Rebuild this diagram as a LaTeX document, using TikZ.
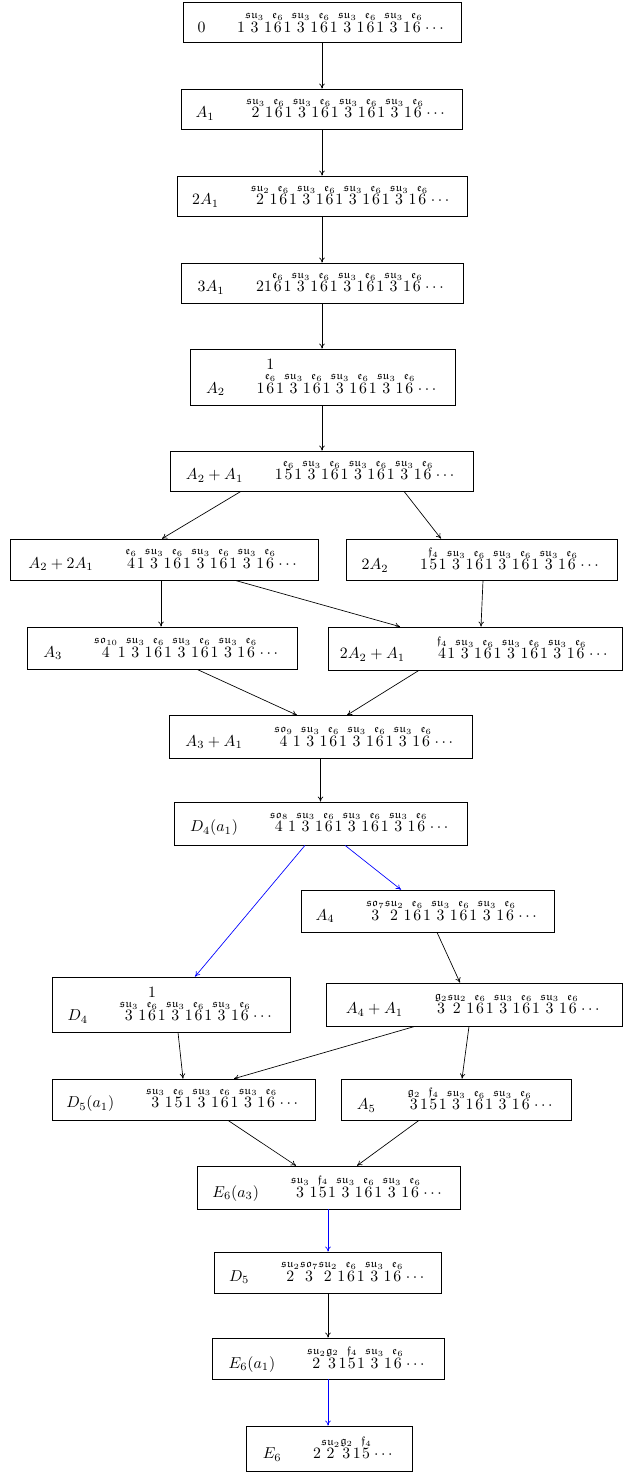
\documentclass[tikz,border=0pt]{standalone}
\usepackage{amsmath,amssymb}
\usetikzlibrary{calc,arrows.meta}
\newcommand{\xsu}[2]{\overset{\mathfrak{su}_{#1}}{#2}}
\newcommand{\xso}[2]{\overset{\mathfrak{so}_{#1}}{#2}}
\newcommand{\xe}[1]{\overset{\mathfrak{e}_6}{#1}}
\newcommand{\xf}[1]{\overset{\mathfrak{f}_4}{#1}}
\newcommand{\xg}[1]{\overset{\mathfrak{g}_2}{#1}}
\newcommand{\xtop}[1]{\overset{\textstyle 1}{#1}}
\newcommand{\tx}[1]{\scalebox{0.935}{$#1$}}
\tikzset{
  box/.style 2 args={draw, inner xsep=1pt, inner ysep=1pt,
    minimum width=#1*0.5917pt, minimum height=#2*0.5917pt},
  ar/.style={-{To[length=3pt,width=3.2pt]}},
  bl/.style={ar, blue}}
\begin{document}
\begin{tikzpicture}[x=0.5917pt,y=-0.5917pt]
\useasboundingbox (0,0) rectangle (624,1479);

\node[box={278}{40}] (n0) at (322,22)
 {\tx{0\qquad 1\xsu{3}{3}1\xe{6}1\xsu{3}{3}1\xe{6}1\xsu{3}{3}1\xe{6}1\xsu{3}{3}1\xe{6}\cdots}};
\node[box={281}{40}] (nA1) at (321.5,109)
 {\tx{A_1\qquad \xsu{3}{2}1\xe{6}1\xsu{3}{3}1\xe{6}1\xsu{3}{3}1\xe{6}1\xsu{3}{3}1\xe{6}\cdots}};
\node[box={290}{40}] (n2A1) at (322,196)
 {\tx{2A_1\qquad \xsu{2}{2}1\xe{6}1\xsu{3}{3}1\xe{6}1\xsu{3}{3}1\xe{6}1\xsu{3}{3}1\xe{6}\cdots}};
\node[box={282}{40}] (n3A1) at (322,283)
 {\tx{3A_1\qquad 21\xe{6}1\xsu{3}{3}1\xe{6}1\xsu{3}{3}1\xe{6}1\xsu{3}{3}1\xe{6}\cdots}};
\node[box={265}{56}] (nA2) at (322.5,377)
 {\tx{A_2\qquad 1\xtop{\xe{6}}1\xsu{3}{3}1\xe{6}1\xsu{3}{3}1\xe{6}1\xsu{3}{3}1\xe{6}\cdots}};
\node[box={303}{40}] (nA2A1) at (321.5,471)
 {\tx{A_2+A_1\qquad 1\xe{5}1\xsu{3}{3}1\xe{6}1\xsu{3}{3}1\xe{6}1\xsu{3}{3}1\xe{6}\cdots}};
\node[box={308}{41}] (nA22A1) at (164,559.5)
 {\tx{A_2+2A_1\qquad \xe{4}1\xsu{3}{3}1\xe{6}1\xsu{3}{3}1\xe{6}1\xsu{3}{3}1\xe{6}\cdots}};
\node[box={271}{41}] (n2A2) at (481.5,559.5)
 {\tx{2A_2\qquad 1\xf{5}1\xsu{3}{3}1\xe{6}1\xsu{3}{3}1\xe{6}1\xsu{3}{3}1\xe{6}\cdots}};
\node[box={270}{42}] (nA3) at (162,648)
 {\tx{A_3\qquad \xso{10}{4}1\xsu{3}{3}1\xe{6}1\xsu{3}{3}1\xe{6}1\xsu{3}{3}1\xe{6}\cdots}};
\node[box={294}{43}] (n2A2A1) at (475,648.5)
 {\tx{2A_2+A_1\qquad \xf{4}1\xsu{3}{3}1\xe{6}1\xsu{3}{3}1\xe{6}1\xsu{3}{3}1\xe{6}\cdots}};
\node[box={303}{43}] (nA3A1) at (320.5,737)
 {\tx{A_3+A_1\qquad \xso{9}{4}1\xsu{3}{3}1\xe{6}1\xsu{3}{3}1\xe{6}1\xsu{3}{3}1\xe{6}\cdots}};
\node[box={293}{43}] (nD4a1) at (320.5,823.5)
 {\tx{D_4(a_1)\qquad \xso{8}{4}1\xsu{3}{3}1\xe{6}1\xsu{3}{3}1\xe{6}1\xsu{3}{3}1\xe{6}\cdots}};
\node[box={253}{42}] (nA4) at (427.5,911)
 {\tx{A_4\qquad \xso{7}{3}\xsu{2}{2}1\xe{6}1\xsu{3}{3}1\xe{6}1\xsu{3}{3}1\xe{6}\cdots}};
\node[box={238}{55}] (nD4) at (171,1004.5)
 {\tx{D_4\qquad \xsu{3}{3}1\xtop{\xe{6}}1\xsu{3}{3}1\xe{6}1\xsu{3}{3}1\xe{6}\cdots}};
\node[box={296}{43}] (nA4A1) at (474,1004.5)
 {\tx{A_4+A_1\qquad \xg{3}\xsu{2}{2}1\xe{6}1\xsu{3}{3}1\xe{6}1\xsu{3}{3}1\xe{6}\cdots}};
\node[box={263}{41}] (nD5a1) at (183.5,1099.5)
 {\tx{D_5(a_1)\qquad \xsu{3}{3}1\xe{5}1\xsu{3}{3}1\xe{6}1\xsu{3}{3}1\xe{6}\cdots}};
\node[box={230}{41}] (nA5) at (456,1099.5)
 {\tx{A_5\qquad \xg{3}1\xf{5}1\xsu{3}{3}1\xe{6}1\xsu{3}{3}1\xe{6}\cdots}};
\node[box={263}{43}] (nE6a3) at (328.5,1187.5)
 {\tx{E_6(a_3)\qquad \xsu{3}{3}1\xf{5}1\xsu{3}{3}1\xe{6}1\xsu{3}{3}1\xe{6}\cdots}};
\node[box={227}{41}] (nD5) at (328,1272.5)
 {\tx{D_5\qquad \xsu{2}{2}\xso{7}{3}\xsu{2}{2}1\xe{6}1\xsu{3}{3}1\xe{6}\cdots}};
\node[box={232}{41}] (nE6a1) at (328,1358.5)
 {\tx{E_6(a_1)\qquad \xsu{2}{2}\xg{3}1\xf{5}1\xsu{3}{3}1\xe{6}\cdots}};
\node[box={166}{45}] (nE6) at (329,1448.5)
 {\tx{E_6\qquad 2\xsu{2}{2}\xg{3}1\xf{5}\cdots}};

% connectors
\draw[ar] (n0.south) -- (n0.south |- nA1.north);
\draw[ar] (n0.south |- nA1.south) -- (n0.south |- n2A1.north);
\draw[ar] (n0.south |- n2A1.south) -- (n0.south |- n3A1.north);
\draw[ar] (n0.south |- n3A1.south) -- (n0.south |- nA2.north);
\draw[ar] (n0.south |- nA2.south) -- (n0.south |- nA2A1.north);
\draw[ar] ($(nA2A1.south)+(-80.5,0)$) -- ($(nA22A1.north)+(-2,0)$);
\draw[ar] ($(nA2A1.south)+(82.5,0)$) -- ($(n2A2.north)+(-40.5,0)$);
\draw[ar] ($(nA22A1.south)+(-3,0)$) -- ($(nA3.north)+(-1,0)$);
\draw[ar] ($(nA22A1.south)+(71,0)$) -- ($(n2A2A1.north)+(-75,0)$);
\draw[ar] ($(n2A2.south)+(1.5,0)$) -- ($(n2A2A1.north)+(6,0)$);
\draw[ar] ($(nA3.south)+(35,0)$) -- ($(nA3A1.north)+(-23.5,0)$);
\draw[ar] ($(n2A2A1.south)+(-56,0)$) -- ($(nA3A1.north)+(26.5,0)$);
\draw[ar] (nA3A1.south) -- (nD4a1.north);
\draw[bl] ($(nD4a1.south)+(-15.5,0)$) -- ($(nD4.north)+(24,0)$);
\draw[bl] ($(nD4a1.south)+(24.5,0)$) -- ($(nA4.north)+(-26.5,0)$);
\draw[ar] ($(nA4.south)+(9.5,0)$) -- ($(nA4A1.north)+(-14,0)$);
\draw[ar] ($(nD4.south)+(7,0)$) -- ($(nD5a1.north)+(-0.5,0)$);
\draw[ar] ($(nA4A1.south)+(-59,0)$) -- ($(nD5a1.north)+(50.5,0)$);
\draw[ar] ($(nA4A1.south)+(-5,0)$) -- ($(nA5.north)+(6,0)$);
\draw[ar] ($(nD5a1.south)+(44.5,0)$) -- ($(nE6a3.north)+(-32.5,0)$);
\draw[ar] ($(nA5.south)+(-37,0)$) -- ($(nE6a3.north)+(28.5,0)$);
\draw[bl] (nD5.north |- nE6a3.south) -- (nD5.north);
\draw[ar] (nD5.south) -- (nE6a1.north);
\draw[bl] (nE6a1.south) -- (nE6a1.south |- nE6.north);
\end{tikzpicture}
\end{document}
